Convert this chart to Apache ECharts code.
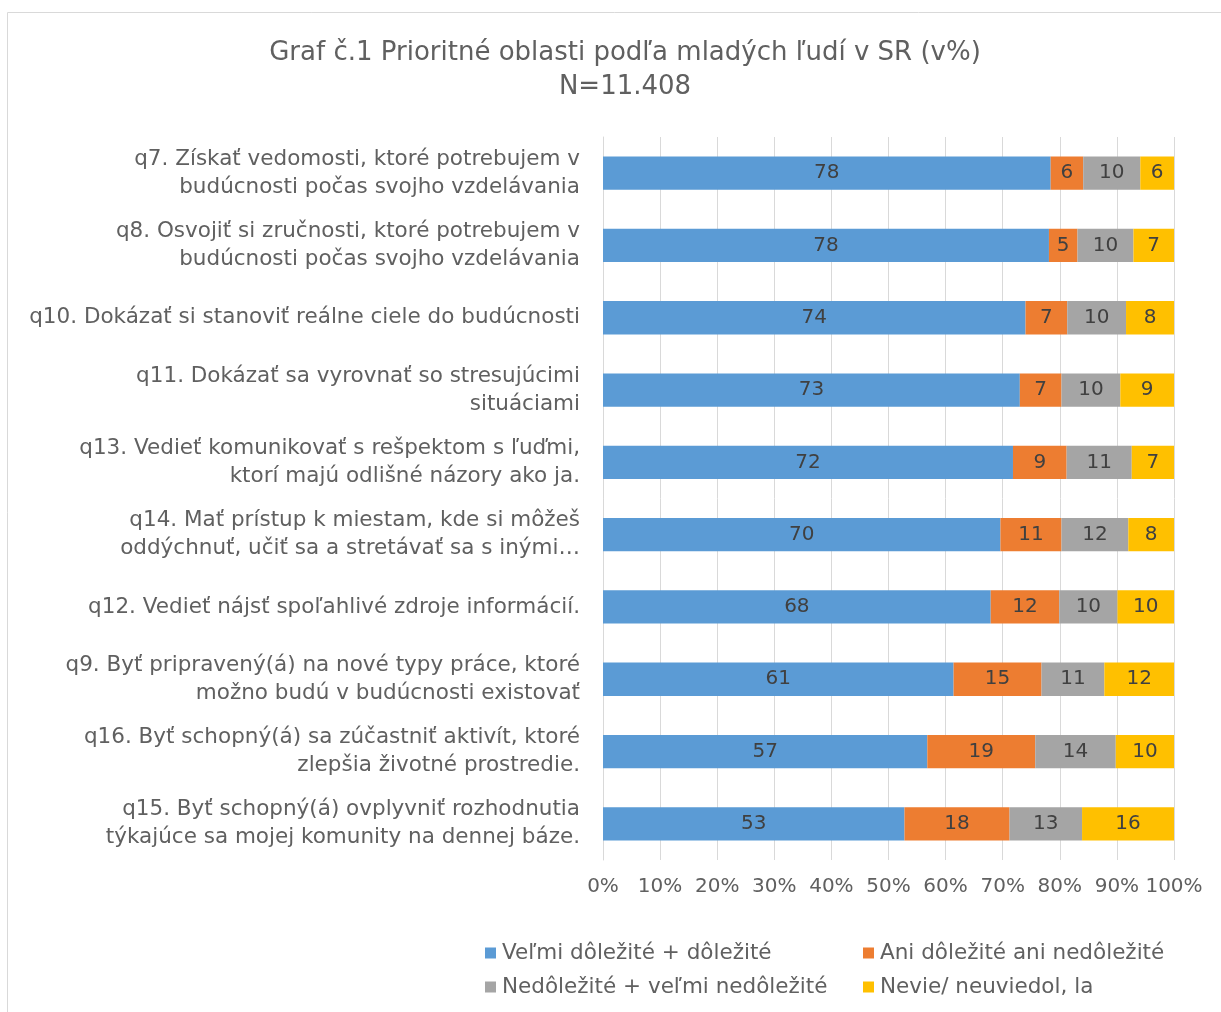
<!DOCTYPE html>
<html>
<head>
<meta charset="utf-8">
<script src="https://cdn.jsdelivr.net/npm/echarts@6/dist/echarts.min.js"></script>
<style>
html,body{margin:0;padding:0;background:#fff;}
#chart{width:1221px;height:1012px;}
</style>
</head>
<body>
<div id="chart"></div>
<script>
var categories = [
  'q7. Získať vedomosti, ktoré potrebujem v\nbudúcnosti počas svojho vzdelávania',
  'q8. Osvojiť si zručnosti, ktoré potrebujem v\nbudúcnosti počas svojho vzdelávania',
  'q10. Dokázať si stanoviť reálne ciele do budúcnosti',
  'q11. Dokázať sa vyrovnať so stresujúcimi\nsituáciami',
  'q13. Vedieť komunikovať s rešpektom s ľuďmi,\nktorí majú odlišné názory ako ja.',
  'q14. Mať prístup k miestam, kde si môžeš\noddýchnuť, učiť sa a stretávať sa s inými…',
  'q12. Vedieť nájsť spoľahlivé zdroje informácií.',
  'q9. Byť pripravený(á) na nové typy práce, ktoré\nmožno budú v budúcnosti existovať',
  'q16. Byť schopný(á) sa zúčastniť aktivít, ktoré\nzlepšia životné prostredie.',
  'q15. Byť schopný(á) ovplyvniť rozhodnutia\ntýkajúce sa mojej komunity na dennej báze.'
];
var seriesNames = [
  'Veľmi dôležité + dôležité',
  'Ani dôležité ani nedôležité',
  'Nedôležité + veľmi nedôležité',
  'Nevie/ neuviedol, la'
];
var importantVals   = [78.4, 78.1, 74.0, 73.0, 71.8, 69.6, 67.9, 61.4, 56.8, 52.8];
var neutralVals     = [5.7, 5.0, 7.3, 7.3, 9.4, 10.7, 12.0, 15.4, 18.9, 18.4];
var unimportantVals = [10.0, 9.8, 10.3, 10.3, 11.4, 11.7, 10.2, 11.0, 14.1, 12.7];
var unknownVals     = [5.9, 7.1, 8.4, 9.4, 7.4, 8.0, 9.9, 12.2, 10.2, 16.1];
var xTicks = [0, 10, 20, 30, 40, 50, 60, 70, 80, 90, 100];
var colors = ['#5B9BD5', '#ED7D31', '#A5A5A5', '#FFC000'];

var FONT = "'DejaVu Sans', sans-serif";
var TXT = '#606060';
var chart = echarts.init(document.getElementById('chart'), null, {renderer: 'canvas'});

function mk(i, vals) {
  return {
    name: seriesNames[i],
    type: 'bar',
    stack: 'total',
    barWidth: '46%',
    data: vals,
    itemStyle: {color: colors[i]},
    label: {
      show: true,
      position: 'inside',
      color: '#404040',
      fontSize: 20,
      fontFamily: FONT,
      formatter: function (p) { return Math.round(p.value); }
    },
    emphasis: {disabled: true}
  };
}

function legendBox(names, left) {
  return {
    data: names,
    orient: 'vertical',
    left: left,
    top: 942,
    padding: 0,
    itemWidth: 11,
    itemHeight: 11,
    itemGap: 12,
    icon: 'rect',
    textStyle: {fontSize: 21.5, lineHeight: 22, color: TXT, fontFamily: FONT, padding: [0, 0, 0, 1]}
  };
}

chart.setOption({
  animation: false,
  textStyle: {fontFamily: FONT},
  graphic: [{
    type: 'rect',
    shape: {x: 7.5, y: 12.5, width: 1230, height: 1020},
    style: {fill: null, stroke: '#d9d9d9', lineWidth: 1},
    silent: true
  }],
  title: {
    text: 'Graf č.1 Prioritné oblasti podľa mladých ľudí v SR (v%)\nN=11.408',
    left: 620,
    top: 31,
    textAlign: 'center',
    textStyle: {fontSize: 26, fontWeight: 'normal', color: TXT, lineHeight: 34, fontFamily: FONT}
  },
  legend: [
    legendBox([seriesNames[0], seriesNames[2]], 485),
    legendBox([seriesNames[1], seriesNames[3]], 863)
  ],
  grid: {left: 603, right: 47, top: 137, bottom: 1012 - 860, containLabel: false},
  xAxis: {
    type: 'value',
    min: xTicks[0],
    max: xTicks[xTicks.length - 1],
    interval: xTicks[1] - xTicks[0],
    axisLine: {show: false},
    axisTick: {show: false},
    splitLine: {show: true, lineStyle: {color: '#d9d9d9', width: 1}},
    axisLabel: {
      formatter: '{value}%',
      fontSize: 20,
      color: TXT,
      fontFamily: FONT,
      margin: 17
    }
  },
  yAxis: {
    type: 'category',
    inverse: true,
    data: categories,
    axisLine: {show: true, lineStyle: {color: '#d9d9d9'}},
    axisTick: {show: false},
    axisLabel: {
      fontSize: 21.5,
      color: TXT,
      fontFamily: FONT,
      lineHeight: 28,
      align: 'right',
      margin: 23
    }
  },
  series: [
    mk(0, importantVals),
    mk(1, neutralVals),
    mk(2, unimportantVals),
    mk(3, unknownVals)
  ]
});
</script>
</body>
</html>
